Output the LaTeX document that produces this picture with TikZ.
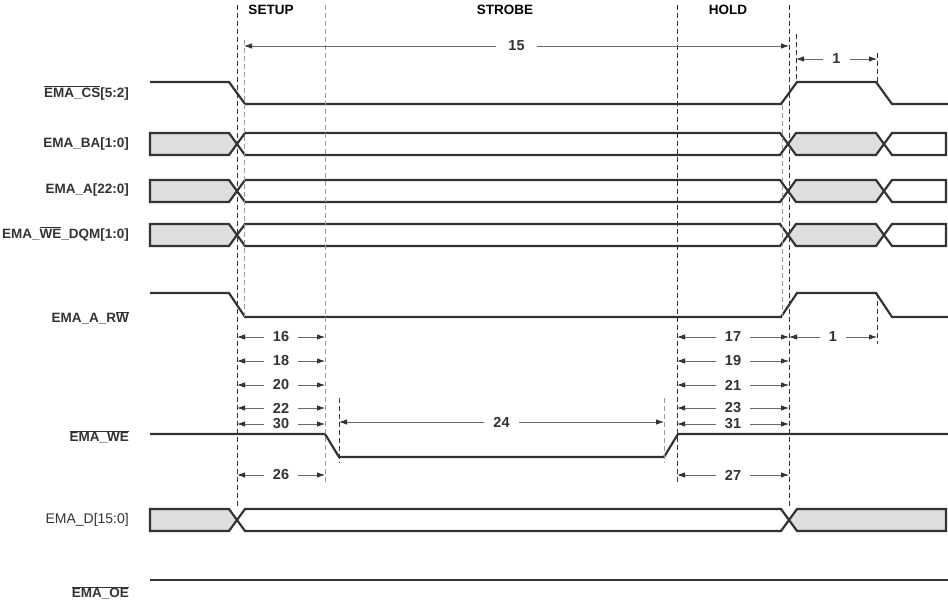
\documentclass[tikz,border=0pt]{standalone}
\usepackage{fontspec}
\setmainfont{Liberation Sans}
\usetikzlibrary{arrows.meta}
\definecolor{wave}{HTML}{333333}
\definecolor{busgrey}{HTML}{DEDEDE}
\definecolor{guidegrey}{HTML}{9A9A9A}
\definecolor{dimgrey}{HTML}{6A6A6A}
\newcommand{\ovl}[1]{$\overline{\hbox{#1}}$}

\begin{document}
\begin{tikzpicture}[x=1pt,y=-1pt,font=\fontsize{13.5}{16}\selectfont\bfseries]
\tikzset{
% Outlines of the signals and the buses
wave line/.style={draw=wave,line width=2.2pt,line join=miter},
bus grey/.style={wave line,fill=busgrey},
bus white/.style={wave line,fill=white},
% Dashed reference lines, dark and light
guide/.style={draw=wave,line width=0.8pt,dash pattern=on 5pt off 3pt},
light guide/.style={guide,draw=guidegrey},
% Dimension arrows with the number in a gap
dim line/.style={draw=dimgrey,line width=0.8pt,
  {Latex[length=8pt,width=5.5pt,color=wave]}-{Latex[length=8pt,width=5.5pt,color=wave]}},
dim label/.style={fill=white,inner xsep=9pt,inner ysep=1pt,text=wave,
  font=\fontsize{14.5}{16}\selectfont\bfseries},
sig label/.style={anchor=east,text=wave,inner xsep=1pt}
}
\useasboundingbox (0,0) rectangle (948,601);
% Timing edges and dimension rows
\coordinate (setupL) at (237,0);
\coordinate (csL) at (244,0);
\coordinate (setupR) at (325,0);
\coordinate (weL) at (339,0);
\coordinate (weR) at (664,0);
\coordinate (holdL) at (677,0);
\coordinate (csR) at (782,0);
\coordinate (holdR) at (789,0);
\coordinate (csH) at (796,0);
\coordinate (csF) at (877,0);
\coordinate (r15) at (0,46);
\coordinate (r1) at (0,59);
\coordinate (r24) at (0,422);

% Phase headings
\node (setup) at (271,10) {SETUP};
\node (strobe) at (505,10) {STROBE};
\node (hold) at (728,10) {HOLD};

% Signal names
\node[sig label] (cs) at (130,93) {\ovl{EMA\_CS}[5:2]};
\node[sig label] (ba) at (130,144) {EMA\_BA[1:0]};
\node[sig label] (addr) at (130,190) {EMA\_A[22:0]};
\node[sig label] (dqm) at (130,234) {EMA\_\ovl{WE}\_DQM[1:0]};
\node[sig label] (rw) at (130,318) {EMA\_A\_R\ovl{W}};
\node[sig label] (we) at (130,437) {\ovl{EMA\_WE}};
\node[sig label,font=\fontsize{14}{16}\selectfont\mdseries] (data) at (130,520) {EMA\_D[15:0]};
\node[sig label] (oe) at (130,593) {\ovl{EMA\_OE}};

% Waveforms
\draw[wave line] (150,82) -- (229,82) -- (245,104) -- (781,104) -- (797,82) -- (876,82) -- (892,104) -- (948,104);
\foreach \y in {144,191,235}{
  \path[bus grey] (150,\y-11) -- (229,\y-11) -- (237,\y) -- (229,\y+11) -- (150,\y+11) -- cycle;
  \path[bus white] (237,\y) -- (245,\y-11) -- (780,\y-11) -- (788,\y) -- (780,\y+11) -- (245,\y+11) -- cycle;
  \path[bus grey] (788,\y) -- (796,\y-11) -- (876,\y-11) -- (884,\y) -- (876,\y+11) -- (796,\y+11) -- cycle;
  \path[bus white] (884,\y) -- (892,\y-11) -- (946,\y-11) -- (946,\y+11) -- (892,\y+11) -- cycle;
}
\draw[wave line] (150,293) -- (229,293) -- (245,317) -- (781,317) -- (797,293) -- (876,293) -- (892,317) -- (948,317);
\draw[wave line] (150,434) -- (325,434) -- (339,457) -- (664,457) -- (678,434) -- (948,434);
\path[bus grey] (150,509) -- (229,509) -- (237,520) -- (229,531) -- (150,531) -- cycle;
\path[bus white] (237,520) -- (245,509) -- (781,509) -- (789,520) -- (781,531) -- (245,531) -- cycle;
\path[bus grey] (789,520) -- (797,509) -- (946,509) -- (946,531) -- (797,531) -- cycle;
\draw[wave line] (150,580) -- (948,580);

% Dashed references
\draw[guide] (setupL |- 0,5) -- (setupL |- 0,508);
\draw[light guide] (csL |- 0,40) -- (csL |- 0,317);
\draw[light guide] (setupR |- 0,5) -- (setupR |- 0,482);
\draw[guide] (weL |- 0,398) -- (weL |- 0,463);
\draw[light guide] (weR |- 0,398) -- (weR |- 0,463);
\draw[guide] (holdL |- 0,5) -- (holdL |- 0,482);
\draw[light guide] (csR |- 0,105) -- (csR |- 0,317);
\draw[guide] (holdR |- 0,5) -- (holdR |- 0,508);
\draw[guide] (csH |- 0,34) -- (csH |- 0,82);
\draw[guide] (csF |- 0,53) -- (csF |- 0,82);
\draw[guide] (csF |- 0,293) -- (csF |- 0,344);

% Dimensions
\draw[dim line] (csL |- r15) -- node[dim label,inner xsep=12pt]{15} (holdR |- r15);
\draw[dim line] (csH |- r1) -- node[dim label]{1} (csF |- r1);
\draw[dim line] (weL |- r24) -- node[dim label]{24} (weR |- r24);
\foreach \y/\a/\b in {337/16/17,361/18/19,385/20/21,408/22/23,424/30/31,475/26/27}{
  \draw[dim line] (setupL |- 0,\y) -- node[dim label]{\a} (setupR |- 0,\y);
  \draw[dim line] (holdL |- 0,\y) -- node[dim label]{\b} (holdR |- 0,\y);
}
\draw[dim line] (holdR |- 0,337) -- node[dim label]{1} (csF |- 0,337);
\end{tikzpicture}
\end{document}
